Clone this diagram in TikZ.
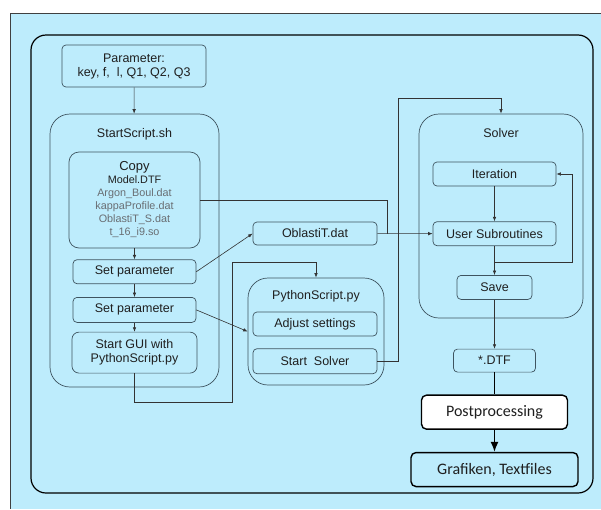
\documentclass[tikz,border=0pt]{standalone}
\usepackage{fontspec}
\setmainfont{Liberation Sans}
\newfontfamily\calibri{Carlito}
\usepackage{tikz}
\usetikzlibrary{arrows.meta,positioning}
\definecolor{skyback}{RGB}{189,236,252}
\definecolor{boxline}{RGB}{62,84,96}
\definecolor{filegrey}{RGB}{105,110,115}

\begin{document}
\begin{tikzpicture}[x=1pt,y=-1pt, every node/.style={font=\fontsize{12.5}{14}\selectfont,align=center,text=black!88},
 box/.style={draw=boxline,fill=skyback,rounded corners=4pt,inner sep=1pt,line width=0.7pt},
 group/.style={draw=boxline,rounded corners=20pt,line width=0.7pt},
 arr/.style={-{Latex[length=4.5pt,width=3.5pt]},line width=0.6pt,draw=black!80},
 link/.style={line width=0.6pt,draw=black!80},
 outbox/.style={draw=black,line width=1.4pt,rounded corners=5pt,inner sep=1pt,font=\calibri\fontsize{16}{18}\selectfont}]
\useasboundingbox (0,0) rectangle (601,509);
% background and frame
\fill[skyback] (10,13) rectangle (601,509);
\draw[black!75,line width=1pt] (601,13) -- (10,13) -- (10,509);
\draw[black,line width=1.2pt,rounded corners=15pt] (31,35) rectangle (593,493);

% groups
\node[group,minimum width=169pt,minimum height=273pt,label={[anchor=north,yshift=-11pt]north:StartScript.sh}] (startscr) at (134.5,250.5) {};
\node[group,minimum width=136pt,minimum height=107pt,label={[anchor=north,yshift=-9pt]north:PythonScript.py}] (python) at (316,331.5) {};
\node[group,minimum width=164pt,minimum height=204pt,label={[anchor=north,yshift=-11pt]north:Solver}] (solver) at (501,216) {};

% StartScript.sh
\node[box,minimum width=144pt,minimum height=42pt] (param) at (134,66) {Parameter:\\key, f,\ \ l, Q1, Q2, Q3};
\node[box,minimum width=131pt,minimum height=96pt,font=\fontsize{10.8}{13}\selectfont,rounded corners=10pt] (copy) at (134.5,200)
 {{\fontsize{13}{14}\selectfont Copy}\\Model.DTF\\\textcolor{filegrey}{Argon\_Boul.dat}\\\textcolor{filegrey}{kappaProfile.dat}\\\textcolor{filegrey}{OblastiT\_S.dat}\\\textcolor{filegrey}{t\_16\_i9.so}};
\node[box,minimum width=123pt,minimum height=24pt,below=11pt of copy] (setpar1) {Set parameter};
\node[box,minimum width=123pt,minimum height=25pt,below=13pt of setpar1] (setpar2) {Set parameter};
\node[box,minimum width=125pt,minimum height=41pt,below=9pt of setpar2,rounded corners=7pt] (gui) {Start GUI with\\PythonScript.py};

% files and PythonScript.py
\node[box,minimum width=124pt,minimum height=23pt] (oblasti) at (315,233.5) {OblastiT.dat};
\node[box,minimum width=124pt,minimum height=24pt] (adjust) at (315,324) {Adjust settings};
\node[box,minimum width=124pt,minimum height=25pt,below=12pt of adjust] (startsolv) {Start\ \ Solver};

% Solver
\node[box,minimum width=123pt,minimum height=24pt] (iter) at (494.5,174) {Iteration};
\node[box,minimum width=123pt,minimum height=24pt,below=35pt of iter] (usersub) {User Subroutines};
\node[box,minimum width=75pt,minimum height=24pt,below=29pt of usersub] (save) {Save};
\node[box,minimum width=82pt,minimum height=23pt,below=49pt of save] (dtf) {*.DTF};
\node[outbox,fill=white,minimum width=146pt,minimum height=34pt,below=22pt of dtf] (post) {Postprocessing};
\node[outbox,fill=skyback,minimum width=167pt,minimum height=34pt,below=22pt of post] (graf) {Grafiken, Textfiles};

\coordinate (merge) at (387,233.5);
\coordinate (guiloop) at (232,262);
\coordinate (solvloop) at (398,98);
\coordinate (iterloop) at (572,174);

% connectors
\draw[arr] (param) -- (startscr);
\draw[arr] (copy) -- (setpar1); \draw[arr] (setpar1) -- (setpar2); \draw[arr] (setpar2) -- (gui);
\draw[arr] (setpar1.east) -- (oblasti.west);
\draw[arr] (setpar2.east) -- (python.west);
\draw[link] (copy.east) -| (merge);
\draw[arr] (oblasti) -- (usersub);
\draw[arr] (gui.south) -- ++(0,29) -| (guiloop) -| (python.north);
\draw[arr] (startsolv.east) -| (solvloop) -| (solver.north);
\draw[arr] (iter) -- (usersub); \draw[arr] (usersub) -- (save);
\draw[arr] ([yshift=-16pt]usersub.south) -| (iterloop) -- (iter.east);
\draw[arr] (save) -- (dtf);
\draw[line width=1.4pt] (dtf) -- (post);
\draw[-{Latex[length=10pt,width=8pt]},line width=1.4pt] (post) -- (graf);
\end{tikzpicture}
\end{document}
